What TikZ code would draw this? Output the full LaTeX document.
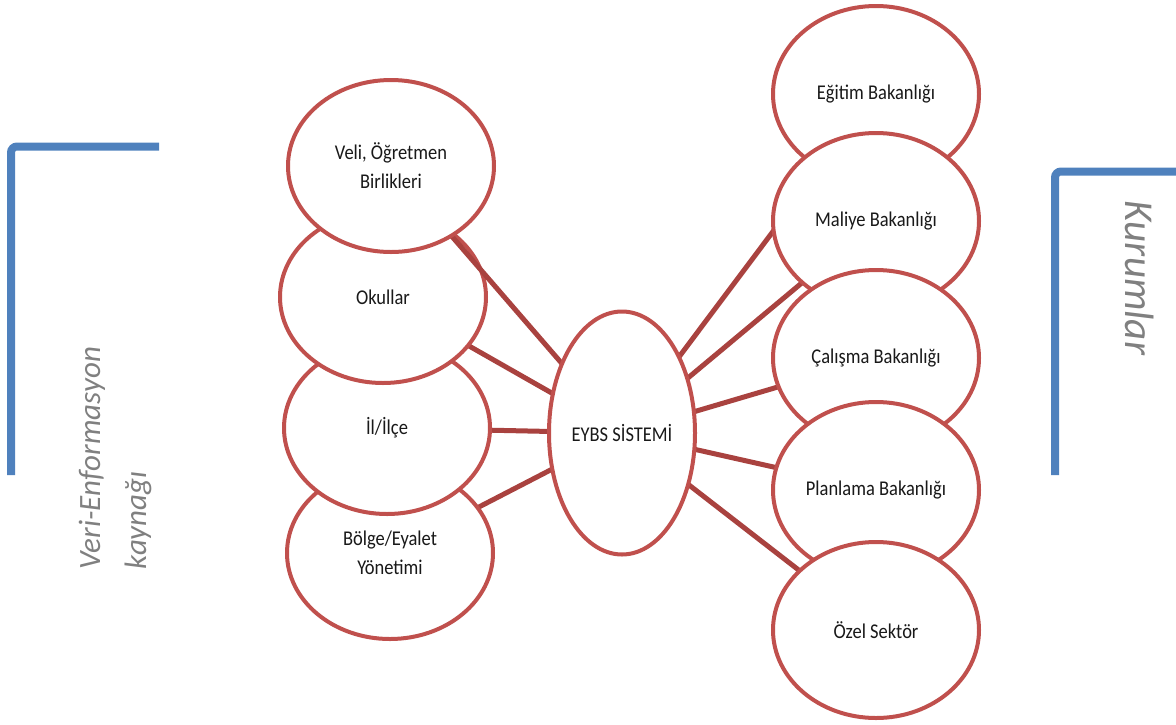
\documentclass[tikz,border=0pt]{standalone}
\usepackage{fontspec}
\setmainfont{Carlito}
\newfontfamily\nodefont[FakeStretch=0.88]{Carlito}
\usetikzlibrary{shapes.geometric,backgrounds}
\pgfdeclarelayer{lower}
\pgfdeclarelayer{veliconn}
\pgfsetlayers{background,lower,veliconn,main}
\definecolor{ered}{HTML}{C0504D}
\definecolor{cred}{HTML}{A9423F}
\definecolor{eblue}{HTML}{4F81BD}
\definecolor{egray}{HTML}{808080}
\tikzset{
  bubble/.style={ellipse, draw=ered, line width=4pt, fill=white,
    minimum width=206pt, minimum height=172pt, inner sep=0pt,
    font=\nodefont\fontsize{21}{29}\selectfont, align=center, text=black!90},
  rbubble/.style={bubble, minimum height=176pt},
  conn/.style={draw=cred, line width=5pt},
  bracket/.style={draw=eblue, line width=8pt, rounded corners=6pt},
  sidetext/.style={text=egray, font=\itshape\fontsize{31}{46}\selectfont, align=left}
}
\begin{document}
\begin{tikzpicture}[x=1pt,y=-1pt]
\useasboundingbox (0,0) rectangle (1176,724);
% blue brackets
\draw[bracket] (159,146.5) -- (11,146.5) -- (11,475);
\draw[bracket] (1185,171.5) -- (1055,171.5) -- (1055,475);
% side labels
\node[sidetext, rotate=90] (veri) at (115,458) {Veri-Enformasyon\\kaynağı};
\node[sidetext, rotate=-90, font=\itshape\fontsize{41}{48}\selectfont] (kurum) at (1140,278) {Kurumlar};
% left stack
\begin{pgfonlayer}{lower}
\node[bubble] (bolge) at (390,553) {Bölge/Eyalet\\Yönetimi};
\node[bubble] (il) at (387,428) {İl/İlçe};
\node[bubble] (okul) at (383,297) {Okullar};
\end{pgfonlayer}
\node[bubble] (veli) at (391,166) {Veli, Öğretmen\\Birlikleri};
% right stack
\node[rbubble] (egitim) at (876,94) {Eğitim Bakanlığı};
\node[rbubble] (maliye) at (876,221) {Maliye Bakanlığı};
\node[rbubble] (calisma) at (876,358) {Çalışma Bakanlığı};
\node[rbubble] (plan) at (876,490) {Planlama Bakanlığı};
\node[rbubble] (ozel) at (876,630) {Özel Sektör};
% centre
\node[bubble, minimum width=146pt, minimum height=243pt] (eybs) at (622,433) {EYBS SİSTEMİ};
% connectors
\begin{pgfonlayer}{background}
\foreach \t in {okul,il,bolge,egitim,maliye,calisma,plan,ozel}
  \draw[conn] (eybs.center) -- (\t.center);
\end{pgfonlayer}
\begin{pgfonlayer}{veliconn}
\draw[conn] (eybs.center) -- (veli.center);
\end{pgfonlayer}
\end{tikzpicture}
\end{document}
